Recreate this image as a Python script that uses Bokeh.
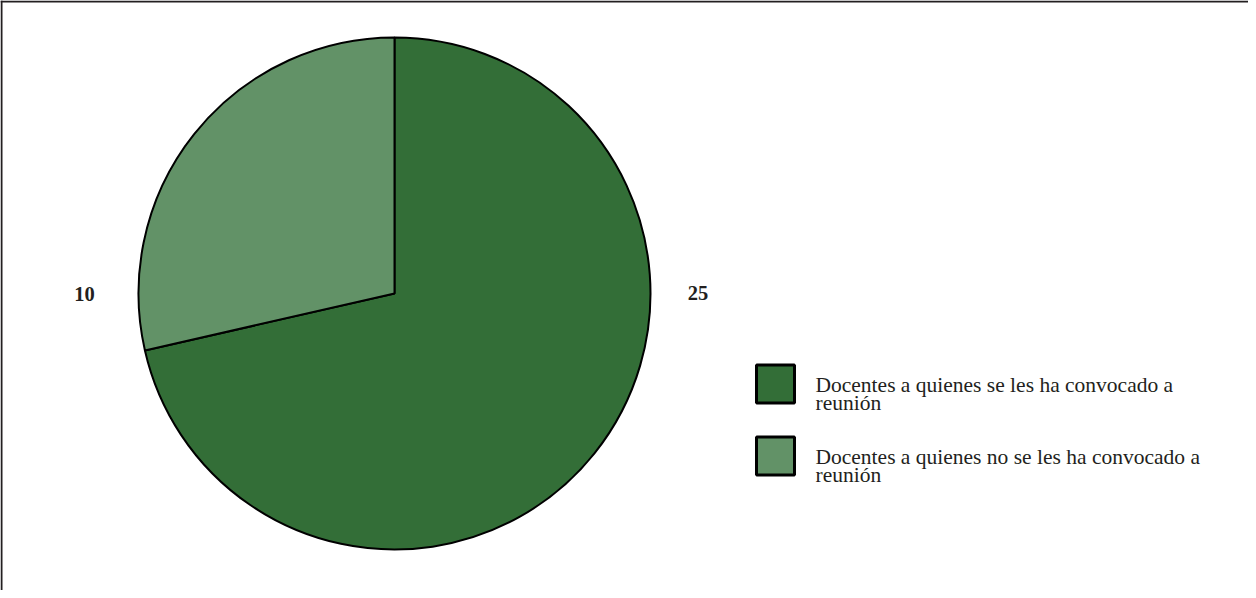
import math
from bokeh.plotting import figure
from bokeh.models import ColumnDataSource, Range1d, Span
from bokeh.core.properties import value
from bokeh.embed import file_html
from bokeh.resources import INLINE

# ---- data ----
categories = [
    "Docentes a quienes se les ha convocado a\nreunión",
    "Docentes a quienes no se les ha convocado a\nreunión",
]
counts = [25, 10]
colors = ["#336e37", "#629267"]

W, H = 1248, 590
p = figure(width=W, height=H, output_backend="svg", toolbar_location=None,
           x_range=Range1d(0, W), y_range=Range1d(0, H), min_border=0)
p.axis.visible = False
p.grid.visible = False
p.outline_line_color = None
p.background_fill_color = "white"
p.border_fill_color = "white"

# chart border (top and left visible in window)
p.add_layout(Span(location=H - 1, dimension="width", line_color="#231f20", line_width=2))
p.add_layout(Span(location=1, dimension="height", line_color="#231f20", line_width=2))

# pie, clockwise from 12 o'clock
cx, cy, r = 394, 297, 256
total = sum(counts)
starts, ends = [], []
acc = 0
for c in counts:
    a0 = math.pi / 2 - 2 * math.pi * (acc + c) / total
    a1 = math.pi / 2 - 2 * math.pi * acc / total
    starts.append(a0)
    ends.append(a1)
    acc += c
src = ColumnDataSource(dict(start=starts, end=ends, color=colors,
                            x=[cx] * len(counts), y=[cy] * len(counts)))
p.wedge(x="x", y="y", radius=r, start_angle="start", end_angle="end",
        fill_color="color", line_color="black", line_width=2, source=src)

# data labels
lab_x = [cx + 303.5, cx - 310]
lab_y = [cy + 1, cy]
p.text(x=lab_x, y=lab_y, text=[str(c) for c in counts],
       text_font=value("Liberation Serif"), text_font_style="bold",
       text_font_size="20.5px", text_align="center", text_baseline="alphabetic",
       text_color="#231f20")

# legend
sq_x = 775
sq_y0 = 206.5
step = 72
for i, (lab, col) in enumerate(zip(categories, colors)):
    yc = sq_y0 - i * step
    p.rect(x=[sq_x], y=[yc], width=38, height=38, width_units="screen",
           height_units="screen", fill_color=col, line_color="black", line_width=3)
    lines = lab.split("\n")
    base = yc - 1
    p.text(x=[815] * len(lines), y=[base - k * 17.5 for k in range(len(lines))],
           text=lines, text_font=value("Liberation Serif"), text_font_size="21.5px",
           text_align="left", text_baseline="alphabetic", text_color="#231f20")

open("out.html", "w").write(file_html(p, INLINE))
